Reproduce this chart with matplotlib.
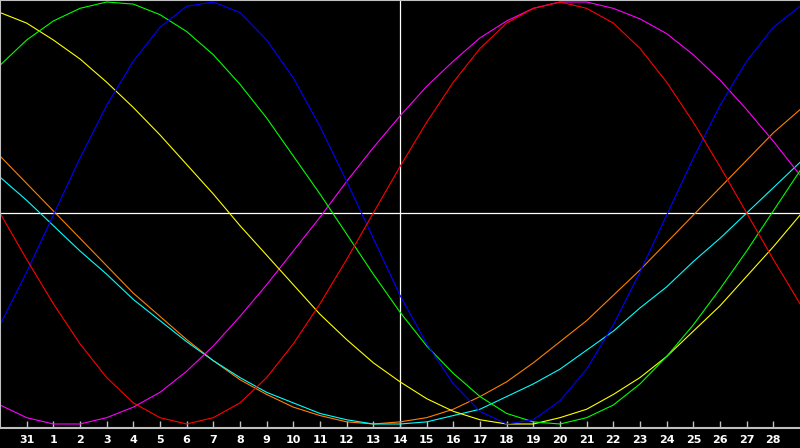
import numpy as np
import matplotlib
matplotlib.use('Agg')
import matplotlib.pyplot as plt

# day labels along the bottom (index 1..29), index 0 and 30 are the edges
days = ['31', '1', '2', '3', '4', '5', '6', '7', '8', '9', '10', '11', '12', '13', '14',
        '15', '16', '17', '18', '19', '20', '21', '22', '23', '24', '25', '26', '27', '28']
today = 15  # index of "14", the white vertical line

# cycle values in percent, one point per day (index 0..30)
red = [0, -22, -43, -62, -78, -90, -97, -100, -97, -90, -78, -62, -43, -22, 0, 22, 43, 62, 78, 90, 97, 100, 97, 90, 78, 62, 43, 22, 0, -22, -43]
blue = [-53, -28, -1, 26, 51, 72, 88, 98, 100, 95, 82, 64, 41, 15, -12, -39, -62, -81, -94, -100, -98, -89, -74, -53, -28, -1, 26, 51, 72, 88, 98]
green = [70, 82, 91, 97, 100, 99, 94, 86, 75, 61, 45, 27, 9, -10, -29, -47, -63, -76, -87, -95, -99, -100, -97, -91, -81, -68, -53, -36, -18, 1, 20]
yellow = [95, 90, 82, 73, 62, 50, 37, 23, 9, -6, -20, -34, -48, -60, -71, -80, -88, -94, -98, -100, -100, -97, -93, -86, -78, -68, -56, -44, -30, -16, -1]
magenta = [-91, -97, -100, -100, -97, -92, -85, -75, -63, -49, -34, -18, -2, 15, 31, 46, 60, 72, 83, 91, 97, 100, 100, 97, 92, 85, 75, 63, 49, 34, 18]
orange = [27, 14, 1, -12, -25, -38, -49, -60, -70, -79, -86, -92, -96, -99, -100, -99, -97, -93, -87, -80, -71, -61, -51, -39, -27, -14, -1, 12, 25, 38, 49]
cyan = [17, 6, -6, -18, -29, -41, -51, -61, -70, -78, -85, -90, -95, -98, -100, -100, -99, -96, -93, -87, -81, -74, -65, -56, -45, -35, -23, -12, 0, 12, 24]

x = np.arange(len(red))

fig = plt.figure(figsize=(8, 4.48), dpi=100, facecolor='black')
ax = fig.add_axes([0, 20 / 448, 1, 428 / 448], facecolor='black')

# white cross through the middle
ax.axhline(0, color='white', lw=0.9, zorder=1)
ax.axvline(today, color='white', lw=0.9, zorder=1)

ax.plot(x, orange, color='#ff8000', lw=0.8)
ax.plot(x, cyan, color='#00ffff', lw=0.8)
ax.plot(x, magenta, color='#ff00ff', lw=0.8)
ax.plot(x, yellow, color='#ffff00', lw=0.8)
ax.plot(x, green, color='#00ff00', lw=0.8)
ax.plot(x, blue, color='#0000ff', lw=0.8)
ax.plot(x, red, color='#ff0000', lw=0.8)

ax.set_xlim(0, 30)
ax.set_ylim(-101.9, 100.95)

ax.set_xticks(np.arange(1, 30))
ax.set_xticklabels(days, fontsize=8, fontweight='bold', color='white')
ax.tick_params(axis='x', direction='in', length=5, width=1, color='#c0c0c0', pad=5)
ax.set_yticks([])

for s in ['top', 'left', 'bottom']:
    ax.spines[s].set_color('#c0c0c0')
    ax.spines[s].set_linewidth(1.5)
ax.spines['right'].set_visible(False)

fig.savefig('out.png', facecolor='black')
